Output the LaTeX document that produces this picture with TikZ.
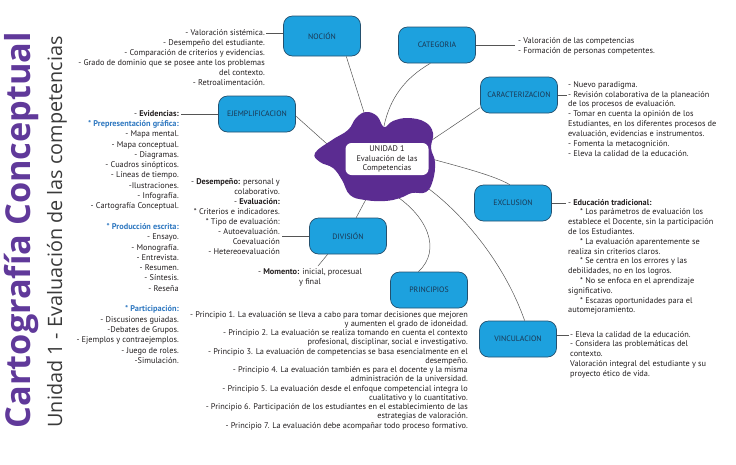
\documentclass[tikz,border=0pt]{standalone}
\usepackage{fontspec}
\setmainfont{PT Sans}
\newfontfamily\titlefont{Open Sans}
\usetikzlibrary{calc}
\definecolor{conceptfill}{HTML}{1DA1DE}
\definecolor{conceptline}{HTML}{24506E}
\definecolor{concepttext}{HTML}{1B3550}
\definecolor{blobpurple}{HTML}{5B2C91}
\definecolor{titlepurple}{HTML}{60399A}
\definecolor{subgray}{HTML}{3A3A3A}
\definecolor{notetext}{HTML}{231F20}
\definecolor{notehead}{HTML}{2F78C0}
\definecolor{linkgray}{HTML}{555555}
\tikzset{
    concept/.style={
        draw=conceptline,
        fill=conceptfill,
        line width=0.7pt,
        rounded corners=9pt,
        minimum width=77pt,
        minimum height=36pt,
        text=concepttext,
        font=\fontsize{7.8}{9}\selectfont
    },
    core/.style={
        fill=white,
        rounded corners=6pt,
        minimum width=83pt,
        minimum height=32pt,
        inner sep=0pt,
        align=center,
        text=notetext,
        font=\fontsize{8.2}{9.6}\selectfont
    },
    notes/.style={
        inner sep=0pt,
        text=notetext,
        font=\fontsize{8.3}{10}\selectfont
    },
    link/.style={
        draw=linkgray,
        line width=0.5pt
    }
}
\newcommand{\notehd}[1]{\textcolor{notehead}{\bfseries #1}}

\begin{document}
\begin{tikzpicture}[x=1pt,y=-1pt]
\useasboundingbox (0,0) rectangle (736,464);

\node[rotate=90, inner sep=0pt, text=titlepurple,
    font=\titlefont\bfseries\fontsize{34.3}{34}\selectfont] (title) at (21,230) {Cartografía Conceptual};
\node[rotate=90, inner sep=0pt, text=subgray,
    font=\titlefont\fontsize{19.8}{20}\selectfont] (subtitle) at (57,232) {Unidad 1 - Evaluación de las competencias};

\node[concept, minimum height=40pt] (nocion) at (322,36) {NOCIÓN};
\node[concept] (categoria) at (437,45) {CATEGORIA};
\node[concept] (caract) at (519,95) {CARACTERIZACION};
\node[concept] (ejempl) at (257,114) {EJEMPLIFICACION};
\node[concept] (division) at (348,236) {DIVISIÓN};
\node[concept] (principios) at (429,290) {PRINCIPIOS};
\node[concept] (exclusion) at (513,203) {EXCLUSION};
\node[concept] (vincul) at (518,339) {VINCULACION};

\coordinate (bn) at (368,125);
\coordinate (bc) at (384,126);
\coordinate (bcar) at (426,144);
\coordinate (bex) at (428,158);
\coordinate (bv) at (425,186);
\coordinate (bp) at (390,192);
\coordinate (bd) at (372,188);
\coordinate (be) at (336,152);

\draw[link] (nocion.-40) -- (bn);
\draw[link] (categoria.-110) .. controls (405,78) and (390,98) .. (bc);
\draw[link] (caract.-162) -- (bcar);
\draw[link] (bex) .. controls (465,168) and (495,176) .. (exclusion.100);
\draw[link] (bv) .. controls (465,215) and (505,265) .. (vincul.70);
\draw[link] (bp) .. controls (428,215) and (442,250) .. (principios.120);
\draw[link] (division.66) -- (bd);
\draw[link] (ejempl.-3) -- (be);

\fill[blobpurple] plot[smooth cycle, tension=0.7] coordinates {
    (315,153) (332,140) (348,130) (356,118) (366,112) (377,116) (384,127)
    (393,121) (408,118) (425,122) (433,133) (431,148) (435,162) (433,180)
    (426,192) (412,193) (400,198) (385,201) (365,200) (350,195) (342,180)
    (333,168) (320,162)};
\node[core] (unidad) at (387,159) {UNIDAD 1\\Evaluación de las\\Competencias};

\node[notes, anchor=north east, align=right] (noctxt) at (265,29) {%
- Valoración sistémica.\\
- Desempeño del estudiante.\\
- Comparación de criterios y evidencias.\\
- Grado de dominio que se posee ante los problemas\\
del contexto.\\
- Retroalimentación.};
\coordinate (nocend) at (266,33);
\draw[link] (nocend) -- (nocend -| nocion.west);

\node[notes, anchor=north west, align=left] (cattxt) at (518,37) {%
- Valoración de las competencias\\
- Formación de personas competentes.};
\coordinate (catend) at (515,45);
\draw[link] (categoria.east) -- (catend);

\node[notes, anchor=north west, align=left, font=\fontsize{8.3}{9.9}\selectfont] (cartxt) at (568,81) {%
- Nuevo paradigma.\\
- Revisión colaborativa de la planeación\\
de los procesos de evaluación.\\
- Tomar en cuenta la opinión de los\\
Estudiantes, en los diferentes procesos de\\
evaluación, evidencias e instrumentos.\\
- Fomenta la metacognición.\\
- Eleva la calidad de la educación.};
\coordinate (carend) at (567,95);
\draw[link] (caract.east) -- (carend);

\node[notes, anchor=north west, align=left, font=\fontsize{8.3}{9.8}\selectfont] (exctxt) at (568,199) {%
- \textbf{Educación tradicional:}\\
\hspace*{12pt}* Los parámetros de evaluación los\\
establece el Docente, sin la participación\\
de los Estudiantes.\\
\hspace*{12pt}* La evaluación aparentemente se\\
realiza sin criterios claros.\\
\hspace*{12pt}* Se centra en los errores y las\\
debilidades, no en los logros.\\
\hspace*{12pt}* No se enfoca en el aprendizaje\\
significativo.\\
\hspace*{12pt}* Escazas oportunidades para el\\
automejoramiento.};
\coordinate (excend) at (566,203);
\draw[link] (exclusion.east) -- (excend);

\node[notes, anchor=north west, align=left, font=\fontsize{8.3}{9.8}\selectfont] (vintxt) at (570,331) {%
- Eleva la calidad de la educación.\\
- Considera las problemáticas del\\
contexto.\\
Valoración integral del estudiante y su\\
proyecto ético de vida.};
\coordinate (vinend) at (569,335);
\draw[link] (vinend -| vincul.east) -- (vinend);

\node[notes, anchor=north east, align=right, font=\fontsize{8.3}{10.3}\selectfont] (ejetxt) at (179,110) {%
- \textbf{Evidencias:}\\
\notehd{* Prepresentación gráfica:}\\
- Mapa mental.\\
- Mapa conceptual.\\
- Diagramas.\\
- Cuadros sinópticos.\\
- Líneas de tiempo.\\
-Ilustraciones.\\
- Infografía.\\
- Cartografía Conceptual.\\[10.3pt]
\notehd{* Producción escrita:}\\
- Ensayo.\\
- Monografía.\\
- Entrevista.\\
- Resumen.\\
- Síntesis.\\
- Reseña\\[10.3pt]
\notehd{* Participación:}\\
- Discusiones guiadas.\\
-Debates de Grupos.\\
- Ejemplos y contraejemplos.\\
- Juego de roles.\\
-Simulación.};
\coordinate (ejeend) at (181,114);
\draw[link] (ejeend) -- (ejeend -| ejempl.west);

\node[notes, anchor=north east, align=right] (divtxt) at (280,178) {%
- \textbf{Desempeño:} personal y\\
colaborativo.\\
- \textbf{Evaluación:}\\
* Criterios e indicadores.\\
* Tipo de evaluación:\\
- Autoevaluación.\\
Coevaluación\\
- Hetereoevaluación};
\coordinate (divend) at (282,236);
\draw[link] (divend) -- (divend -| division.west);

\node[notes, anchor=north, align=center] (momtxt) at (310,268) {%
- \textbf{Momento:} inicial, procesual\\
y final};
\coordinate (momend) at (318,266);
\draw[link] (division.-138) -- (momend);

\node[notes, anchor=north east, align=right, font=\fontsize{8.3}{9.25}\selectfont] (printxt) at (468,311) {%
- Principio 1. La evaluación se lleva a cabo para tomar decisiones que mejoren\\
y aumenten el grado de idoneidad.\\
- Principio 2. La evaluación se realiza tomando en cuenta el contexto\\
profesional, disciplinar, social e investigativo.\\
- Principio 3. La evaluación de competencias se basa esencialmente en el\\
desempeño.\\
- Principio 4. La evaluación también es para el docente y la misma\\
administración de la universidad.\\
- Principio 5. La evaluación desde el enfoque competencial integra lo\\
cualitativo y lo cuantitativo.\\
- Principio 6. Participación de los estudiantes en el establecimiento de las\\
estrategias de valoración.\\
- Principio 7. La evaluación debe acompañar todo proceso formativo.};

\end{tikzpicture}
\end{document}
